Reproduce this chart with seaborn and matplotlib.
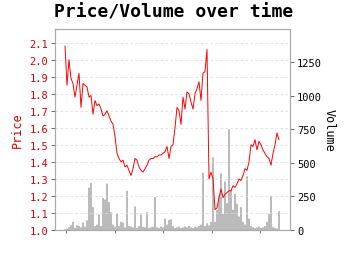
import numpy as np
import matplotlib
matplotlib.use("Agg")
import matplotlib.pyplot as plt
import seaborn as sns
import pandas as pd

price = [
    2.08, 1.85, 2.00, 1.89, 1.86, 1.78, 1.85, 1.92, 1.72, 1.86,
    1.85, 1.84, 1.78, 1.79, 1.68, 1.76, 1.73, 1.74, 1.71, 1.67,
    1.68, 1.70, 1.67, 1.64, 1.62, 1.55, 1.45, 1.42, 1.40, 1.41,
    1.37, 1.38, 1.35, 1.32, 1.36, 1.42, 1.41, 1.37, 1.35, 1.34,
    1.36, 1.38, 1.41, 1.42, 1.42, 1.43, 1.43, 1.44, 1.44, 1.45,
    1.46, 1.49, 1.42, 1.49, 1.50, 1.60, 1.72, 1.70, 1.62, 1.78,
    1.71, 1.81, 1.80, 1.75, 1.71, 1.80, 1.83, 1.87, 1.76, 1.92,
    1.93, 2.06, 1.30, 1.34, 1.30, 1.12, 1.13, 1.19, 1.24, 1.19,
    1.21, 1.22, 1.23, 1.23, 1.26, 1.25, 1.27, 1.30, 1.29, 1.32,
    1.36, 1.35, 1.40, 1.50, 1.49, 1.53, 1.47, 1.52, 1.50, 1.47,
    1.45, 1.43, 1.42, 1.38, 1.45, 1.50, 1.57, 1.53,
]

volume = [
    5, 10, 20, 35, 60, 15, 35, 30, 20, 55,
    25, 72, 315, 350, 170, 30, 40, 115, 30, 237,
    227, 345, 208, 133, 40, 25, 125, 30, 60, 55,
    20, 290, 30, 25, 20, 175, 15, 30, 115, 25,
    20, 133, 15, 20, 25, 245, 20, 15, 25, 20,
    85, 40, 75, 80, 30, 15, 20, 25, 15, 20,
    25, 20, 30, 20, 15, 25, 20, 30, 40, 425,
    30, 50, 35, 60, 540, 60, 150, 250, 420, 120,
    360, 200, 750, 300, 150, 270, 195, 100, 170, 60,
    40, 400, 85, 30, 20, 15, 20, 25, 15, 20,
    30, 60, 120, 255, 20, 15, 10, 140,
]

price_ticks = [1.0, 1.1, 1.2, 1.3, 1.4, 1.5, 1.6, 1.7, 1.8, 1.9, 2.0, 2.1]
volume_ticks = [0, 250, 500, 750, 1000, 1250]

df = pd.DataFrame({"t": np.arange(len(price)), "price": price, "volume": volume})

sns.set_theme(style="ticks")
plt.rcParams['font.family'] = ['DejaVu Sans Mono', 'DejaVu Sans']
plt.rcParams['text.color'] = 'black'

fig = plt.figure(figsize=(3.5, 2.55), dpi=100)
ax = fig.add_axes([55/350, 1 - 231/255, 235/350, 201/255])
ax2 = ax.twinx()

ax2.bar(df["t"], df["volume"], width=0.55, color="#6f6f6f", alpha=0.85,
        linewidth=0, snap=False)
sns.lineplot(data=df, x="t", y="price", ax=ax, color="red", linewidth=0.7)

ax.set_zorder(ax2.get_zorder() + 1)
ax.patch.set_visible(False)

ax.set_xlim(-5, 112.5)
ax.set_ylim(1.0, 2.18)
ax2.set_ylim(0, 1495)
ax.set_yticks(price_ticks)
ax.set_yticklabels([f"{v:.1f}" for v in price_ticks])
ax2.set_yticks(volume_ticks)
ax2.set_yticklabels([str(v) for v in volume_ticks])
ax.set_xticks(np.arange(0.5, len(price), 24.3))
ax.set_xticklabels([])
ax.set_xlabel("")

ax.yaxis.grid(True, linestyle=(0, (3, 3)), color="#dddddd", linewidth=0.6)
ax.xaxis.grid(False)

ax.set_ylabel("Price", color="#dd0000", fontsize=8.5, labelpad=4)
ax2.set_ylabel("Volume", color="black", fontsize=8.5, rotation=270, labelpad=10)
ax.tick_params(axis="y", colors="#dd0000", labelsize=7.5, length=3, width=0.6, pad=2)
ax2.tick_params(axis="y", colors="black", labelsize=7.5, length=3, width=0.6, pad=2)
ax.tick_params(axis="x", length=2, width=0.6, color="#555555")
ax.tick_params(axis="y", which="both", color="#555555")
ax2.tick_params(axis="y", which="both", color="#555555")
for a in (ax, ax2):
    for s in a.spines.values():
        s.set_color("#aaaaaa")
        s.set_linewidth(0.8)
        s.set_visible(True)

fig.suptitle("Price/Volume over time", fontsize=13, fontweight="bold",
             color="black", x=0.497, y=0.985)

fig.savefig("out.png", dpi=100)
